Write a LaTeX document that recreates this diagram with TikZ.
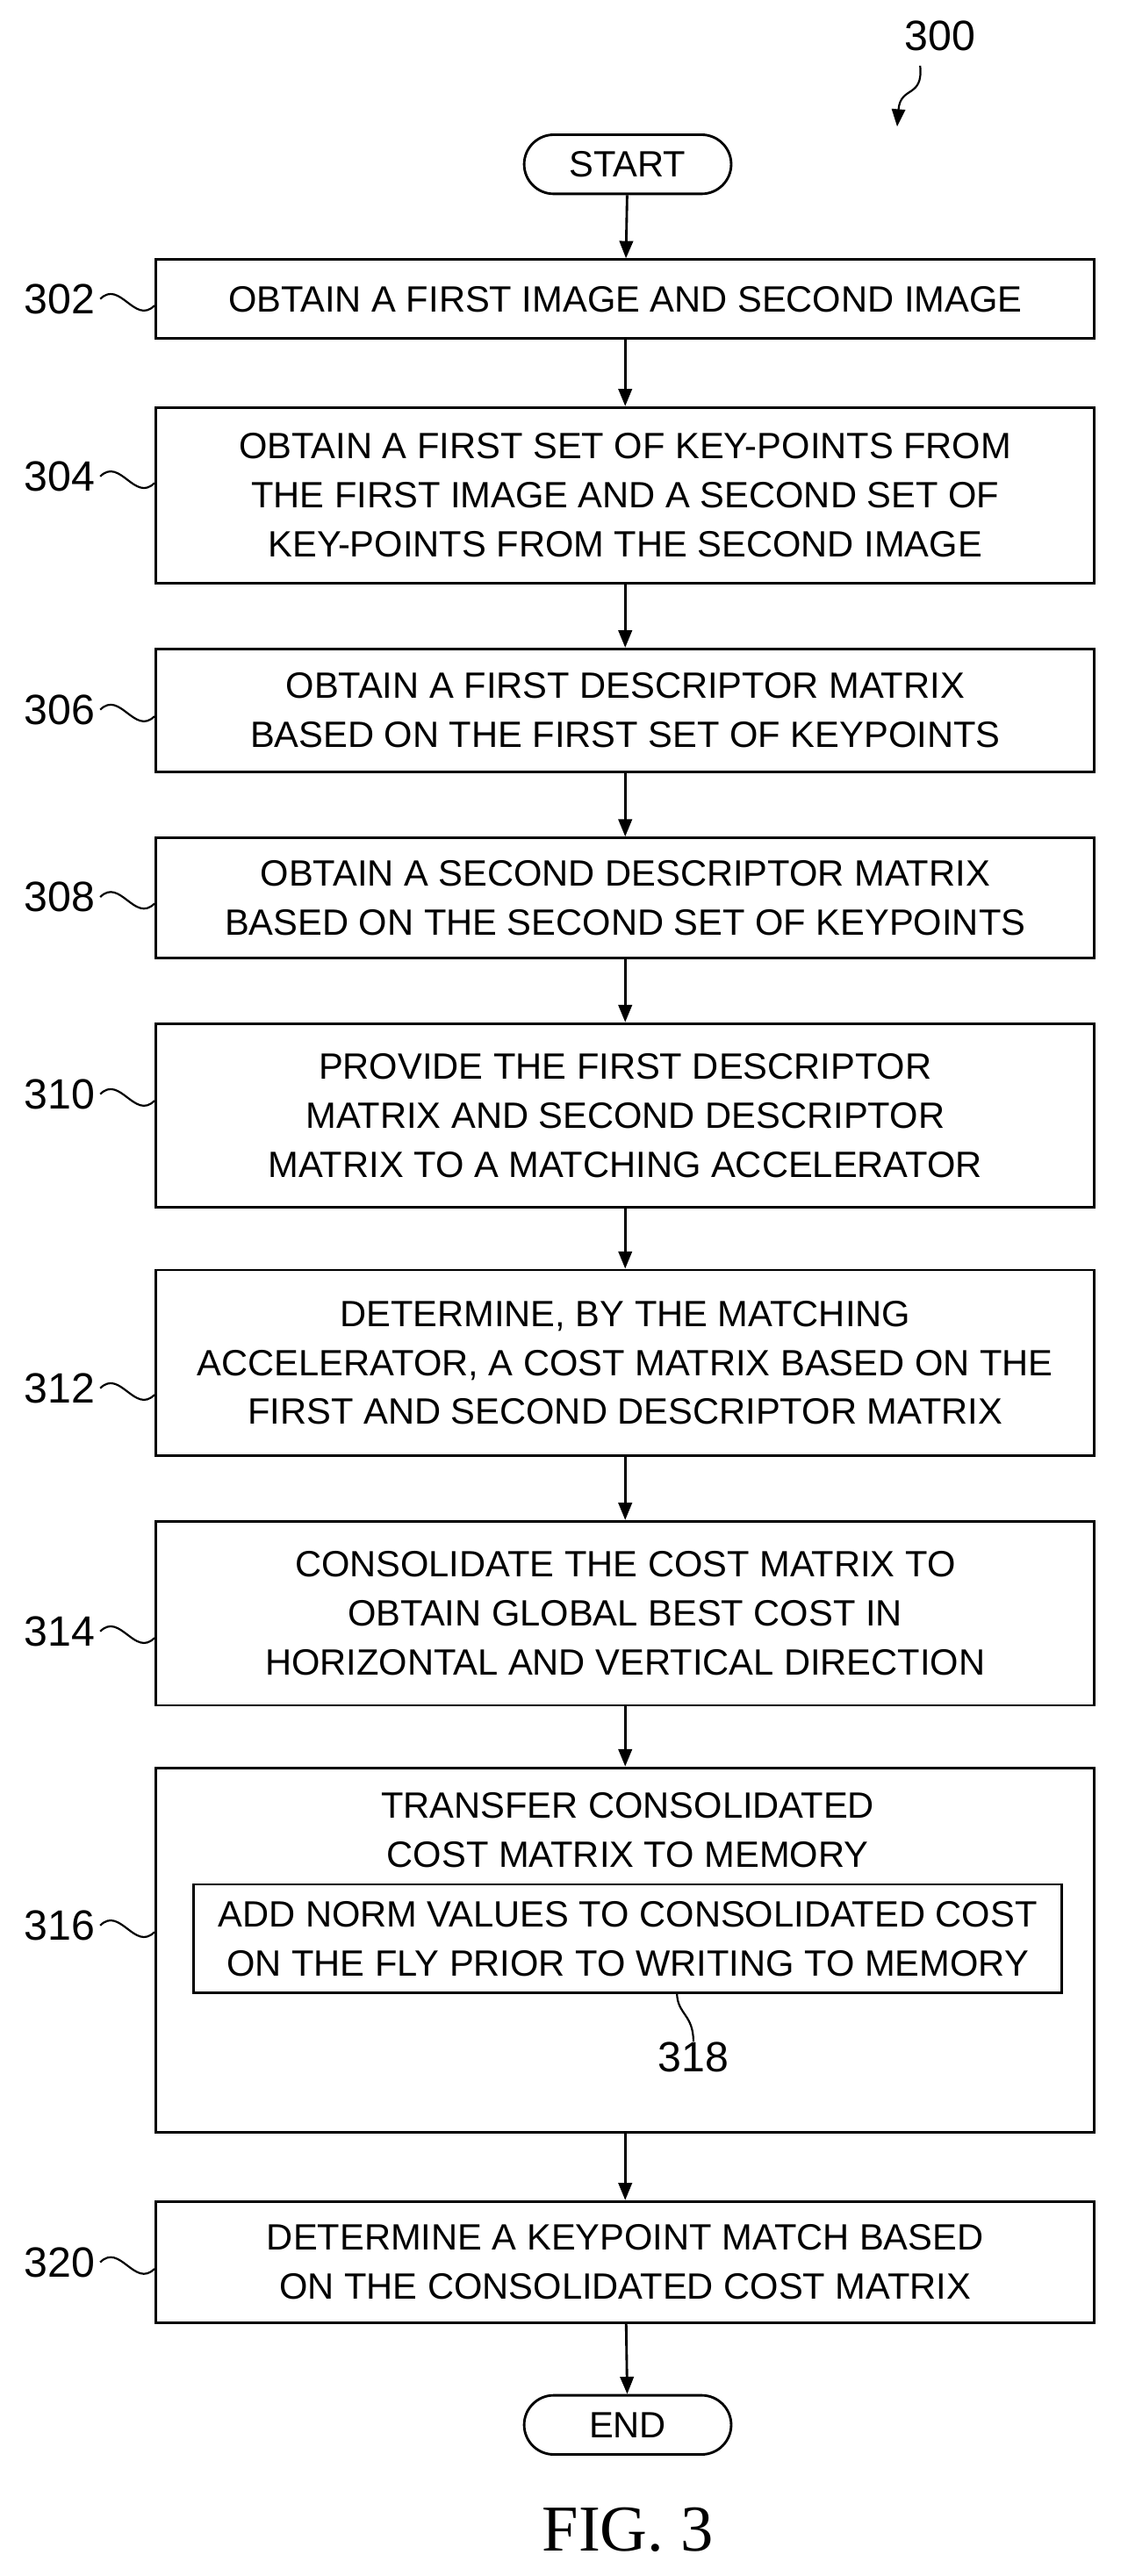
\documentclass[tikz,border=0pt]{standalone}
\usepackage{fontspec}
\setmainfont{Liberation Sans}
\newfontfamily\figfont{Liberation Serif}
\usetikzlibrary{arrows.meta}
\begin{document}
\begin{tikzpicture}[x=0.03cm,y=-0.03cm,
  box/.style={draw,line width=1.3pt,minimum width=571*0.03cm,align=center,font=\fontsize{19}{25.5}\selectfont,inner sep=0pt},
  term/.style={draw,line width=1.3pt,rounded corners=18*0.03cm,minimum width=126*0.03cm,minimum height=36*0.03cm,font=\fontsize{19}{20}\selectfont,inner sep=0pt},
  num/.style={font=\fontsize{22}{24}\selectfont,inner sep=0pt},
  flow/.style={line width=1.3pt,-{Triangle[length=9pt,width=7pt]}},
  wig/.style={line width=1pt}]
  \useasboundingbox (0,0) rectangle (686,1568);

  \node[num] (n300) at (572,22) {300};
  \coordinate (t300) at (546,77);
  \draw[wig,-{Triangle[length=9pt,width=7pt]}] (560,40) .. controls (562,60) and (548,52) .. (t300);

  \node[term] (start) at (382,100) {START};
  \node[box,minimum height=48*0.03cm] (b302) at (380.5,182) {OBTAIN A FIRST IMAGE AND SECOND IMAGE};
  \node[box,minimum height=107*0.03cm] (b304) at (380.5,301.5) {OBTAIN A FIRST SET OF KEY-POINTS FROM\\THE FIRST IMAGE AND A SECOND SET OF\\KEY-POINTS FROM THE SECOND IMAGE};
  \node[box,minimum height=75*0.03cm] (b306) at (380.5,432.5) {OBTAIN A FIRST DESCRIPTOR MATRIX\\BASED ON THE FIRST SET OF KEYPOINTS};
  \node[box,minimum height=73*0.03cm] (b308) at (380.5,546.5) {OBTAIN A SECOND DESCRIPTOR MATRIX\\BASED ON THE SECOND SET OF KEYPOINTS};
  \node[box,minimum height=112*0.03cm] (b310) at (380.5,679) {PROVIDE THE FIRST DESCRIPTOR\\MATRIX AND SECOND DESCRIPTOR\\MATRIX TO A MATCHING ACCELERATOR};
  \node[box,minimum height=113*0.03cm] (b312) at (380.5,829.5) {DETERMINE, BY THE MATCHING\\ACCELERATOR, A COST MATRIX BASED ON THE\\FIRST AND SECOND DESCRIPTOR MATRIX};
  \node[box,minimum height=112*0.03cm] (b314) at (380.5,982) {CONSOLIDATE THE COST MATRIX TO\\OBTAIN GLOBAL BEST COST IN\\HORIZONTAL AND VERTICAL DIRECTION};
  \node[box,minimum height=222*0.03cm] (b316) at (380.5,1187) {};
  \node[font=\fontsize{19}{25.5}\selectfont,align=center] (t316) at (382,1114) {TRANSFER CONSOLIDATED\\COST MATRIX TO MEMORY};
  \node[box,minimum width=528*0.03cm,minimum height=66*0.03cm] (b318) at (382,1180) {ADD NORM VALUES TO CONSOLIDATED COST\\ON THE FLY PRIOR TO WRITING TO MEMORY};
  \node[box,minimum height=74*0.03cm] (b320) at (380.5,1377) {DETERMINE A KEYPOINT MATCH BASED\\ON THE CONSOLIDATED COST MATRIX};
  \node[term] (end) at (382,1476) {END};

  \draw[flow] (start) -- (b302);
  \draw[flow] (b302) -- (b304);
  \draw[flow] (b304) -- (b306);
  \draw[flow] (b306) -- (b308);
  \draw[flow] (b308) -- (b310);
  \draw[flow] (b310) -- (b312);
  \draw[flow] (b312) -- (b314);
  \draw[flow] (b314) -- (b316);
  \draw[flow] (b316) -- (b320);
  \draw[flow] (b320) -- (end);

  % step numbers
  \foreach \n/\y in {302/182,304/290,306/432,308/546,310/666,312/845,314/993,316/1172,320/1377}{
    \node[num,anchor=east] (l\n) at (58,\y) {\n};
    \draw[wig] (l\n.east) ++(3,0) .. controls +(12,-12) and +(-12,12) .. (94,\y+4);
  }
  \node[num] (l318) at (422,1252) {318};
  \coordinate (w318) at (412,1213);
  \draw[wig] (w318) .. controls (412,1226) and (422,1226) .. (l318.north);

  \node[font=\figfont\fontsize{34}{36}\selectfont] (fig) at (382,1540) {FIG. 3};
\end{tikzpicture}
\end{document}
